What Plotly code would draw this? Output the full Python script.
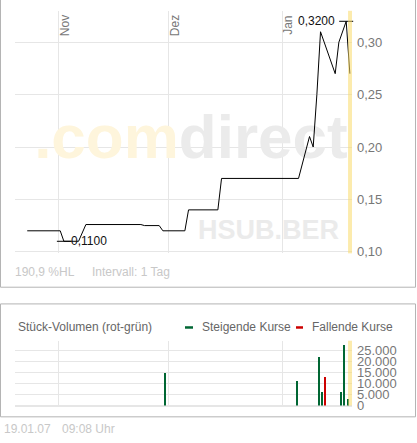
import pandas as pd
import plotly.graph_objects as go

# Chart data (HSUB.BER, daily, Oct 2006 - Jan 2007)
PRICE_DATES = ["2006-10-23", "2006-11-01", "2006-11-02", "2006-11-06", "2006-11-08",
               "2006-11-23", "2006-11-24", "2006-11-28", "2006-11-29", "2006-12-05",
               "2006-12-06", "2006-12-14", "2006-12-15", "2007-01-05", "2007-01-08",
               "2007-01-09", "2007-01-10", "2007-01-11", "2007-01-15", "2007-01-16",
               "2007-01-18", "2007-01-19"]
PRICES = [0.12, 0.12, 0.11, 0.11, 0.126, 0.126, 0.125, 0.125, 0.12, 0.12,
          0.14, 0.14, 0.17, 0.17, 0.21, 0.20, 0.25, 0.31, 0.27, 0.30,
          0.32, 0.27]

VOL_UP_DATES = ["2006-11-30", "2007-01-05", "2007-01-11", "2007-01-12",
                "2007-01-17", "2007-01-18", "2007-01-19"]
VOL_UP = [15000, 11000, 22000, 6000, 6000, 27500, 3000]
VOL_DOWN_DATES = ["2007-01-12 20:00"]
VOL_DOWN = [13000]

MONTHS = ["2006-11-01", "2006-12-01", "2007-01-01"]
MONTH_LABELS = ["Nov", "Dez", "Jan"]

X_START = "2006-10-20 04:00"
X_END = "2007-01-20 02:00"
TODAY = "2007-01-19"

# page geometry (pixels)
W, H = 417, 443
FONT = "Arial, Liberation Sans, sans-serif"
GRID = "#e6e6e6"
GREEN = "#006633"
RED = "#cc0000"
BAND = "rgba(250, 218, 105, 0.55)"


def px(x):
    return x / W


def py(y):
    return 1 - y / H


price_x = pd.to_datetime(PRICE_DATES) + pd.Timedelta(hours=12)  # quotes plotted mid-day
price_s = pd.Series(PRICES, index=price_x)
hi_t, lo_t = price_s.idxmax(), price_s.idxmin()

x_dom = [px(15), px(352)]
price_dom = [py(258), py(11)]
vol_dom = [py(413), py(347)]

fig = go.Figure()

# watermark (decorative axes underneath the price axes)
fig.add_trace(go.Scatter(
    x=[0.522], y=[0.455], mode="text", xaxis="x", yaxis="y", cliponaxis=False,
    text=['<span style="color:#fef5dc">.com</span><span style="color:#ebebeb">direct</span>'],
    textfont=dict(family=FONT, size=62, weight="bold"),
    textposition="middle center", hoverinfo="skip", showlegend=False))
fig.add_trace(go.Scatter(
    x=[0.752], y=[0.085], mode="text", xaxis="x", yaxis="y", cliponaxis=False,
    text=["HSUB.BER"],
    textfont=dict(family=FONT, size=27, weight="bold", color="#ebebeb"),
    textposition="middle center", hoverinfo="skip", showlegend=False))

# price line
fig.add_trace(go.Scatter(
    x=price_x, y=PRICES, mode="lines", xaxis="x2", yaxis="y2",
    line=dict(color="black", width=1), showlegend=False))

# high / low markers
fig.add_trace(go.Scatter(
    x=[hi_t, lo_t], y=[price_s[hi_t], price_s[lo_t]], mode="markers",
    xaxis="x2", yaxis="y2", cliponaxis=False,
    marker=dict(symbol="line-ew", size=10, line=dict(color="black", width=1)),
    showlegend=False))

# volume bars
bar_w = 86400000 * 0.3
fig.add_trace(go.Bar(
    x=pd.to_datetime(VOL_UP_DATES), y=VOL_UP, width=bar_w, xaxis="x3", yaxis="y3",
    marker=dict(color=GREEN, line=dict(width=0)), showlegend=False))
fig.add_trace(go.Bar(
    x=pd.to_datetime(VOL_DOWN_DATES), y=VOL_DOWN, width=bar_w, xaxis="x3", yaxis="y3",
    marker=dict(color=RED, line=dict(width=0)), showlegend=False))

annotations = []
for m, lab in zip(MONTHS, MONTH_LABELS):
    annotations.append(dict(
        x=m, xref="x2", y=1, yref="y2 domain", text=lab, textangle=-90,
        showarrow=False, xanchor="center", yanchor="middle", xshift=6, yshift=-15,
        font=dict(family=FONT, size=12, color="#777777")))

fmt = lambda v: f"{v:.4f}".replace(".", ",")
annotations.append(dict(
    x=hi_t, xref="x2", y=price_s[hi_t], yref="y2", text=fmt(price_s[hi_t]),
    showarrow=False, xanchor="right", yanchor="middle", xshift=-9,
    font=dict(family=FONT, size=12, color="#111111")))
annotations.append(dict(
    x=lo_t, xref="x2", y=price_s[lo_t], yref="y2", text=fmt(price_s[lo_t]),
    showarrow=False, xanchor="left", yanchor="middle", xshift=5,
    font=dict(family=FONT, size=12, color="#111111")))

# footer / header texts
small = dict(family=FONT, size=12, color="#c8c8c8")
annotations += [
    dict(x=px(13), y=py(277), xref="paper", yref="paper", text="190,9 %HL",
         showarrow=False, xanchor="left", yanchor="middle", font=small),
    dict(x=px(90), y=py(277), xref="paper", yref="paper", text="Intervall: 1 Tag",
         showarrow=False, xanchor="left", yanchor="middle", font=small),
    dict(x=px(2), y=py(437), xref="paper", yref="paper", text="19.01.07",
         showarrow=False, xanchor="left", yanchor="middle", font=small),
    dict(x=px(60), y=py(437), xref="paper", yref="paper", text="09:08 Uhr",
         showarrow=False, xanchor="left", yanchor="middle", font=small),
    dict(x=px(16), y=py(333.5), xref="paper", yref="paper", text="Stück-Volumen (rot-grün)",
         showarrow=False, xanchor="left", yanchor="middle",
         font=dict(family=FONT, size=12, color="#666666")),
    dict(x=px(200), y=py(333.5), xref="paper", yref="paper", text="Steigende Kurse",
         showarrow=False, xanchor="left", yanchor="middle",
         font=dict(family=FONT, size=12, color="#666666")),
    dict(x=px(310), y=py(333.5), xref="paper", yref="paper", text="Fallende Kurse",
         showarrow=False, xanchor="left", yanchor="middle",
         font=dict(family=FONT, size=12, color="#666666")),
]

shapes = [
    # panel frames
    dict(type="rect", xref="paper", yref="paper", x0=px(0.5), x1=px(415.5),
         y0=py(292.5), y1=py(-3), line=dict(color="#b4b4b4", width=1)),
    dict(type="rect", xref="paper", yref="paper", x0=px(0.5), x1=px(415.5),
         y0=py(424.5), y1=py(309.5), line=dict(color="#b4b4b4", width=1)),
    # legend keys
    dict(type="line", xref="paper", yref="paper", x0=px(185), x1=px(193),
         y0=py(333.5), y1=py(333.5), line=dict(color=GREEN, width=2.5)),
    dict(type="line", xref="paper", yref="paper", x0=px(296), x1=px(303),
         y0=py(333.5), y1=py(333.5), line=dict(color=RED, width=2.5)),
    # today band
    dict(type="rect", xref="x2", yref="y2 domain", x0=TODAY, x1=X_END, y0=0, y1=1,
         fillcolor=BAND, line=dict(width=0), layer="above"),
    dict(type="rect", xref="x3", yref="y3 domain", x0=TODAY, x1=X_END, y0=0, y1=1,
         fillcolor=BAND, line=dict(width=0), layer="above"),
]

date_axis = dict(range=[X_START, X_END], type="date", tickvals=MONTHS,
                 showticklabels=False, showgrid=True, gridcolor=GRID, gridwidth=1,
                 zeroline=False, showline=False, ticks="", domain=x_dom)
tickfont = dict(family=FONT, size=13, color="#777777")

fig.update_layout(
    width=W, height=H, autosize=False,
    margin=dict(l=0, r=0, t=0, b=0, pad=0),
    paper_bgcolor="white", plot_bgcolor="white",
    separators=",.",
    bargap=0,
    xaxis=dict(domain=x_dom, range=[0, 1], visible=False, fixedrange=True),
    yaxis=dict(domain=price_dom, range=[0, 1], visible=False, fixedrange=True),
    xaxis2=dict(date_axis, overlaying="x", anchor="y2"),
    yaxis2=dict(domain=price_dom, overlaying="y", anchor="x2", side="right",
                range=[0.0985, 0.33], tickvals=[0.10, 0.15, 0.20, 0.25, 0.30],
                tickformat=".2f", showgrid=True, gridcolor=GRID, zeroline=False,
                ticks="", ticklabelstandoff=4, tickfont=tickfont),
    xaxis3=dict(date_axis, anchor="y3"),
    yaxis3=dict(domain=vol_dom, anchor="x3", side="right", range=[0, 29200],
                tickvals=[0, 5000, 10000, 15000, 20000, 25000], tickformat=",d",
                showgrid=True, gridcolor=GRID, zeroline=True, zerolinecolor=GRID,
                zerolinewidth=2, ticks="", ticklabelstandoff=4, tickfont=tickfont),
    annotations=annotations,
    shapes=shapes,
)

fig.write_html("out.html", config={"displayModeBar": False},
               post_script="document.body.style.margin='0';")
